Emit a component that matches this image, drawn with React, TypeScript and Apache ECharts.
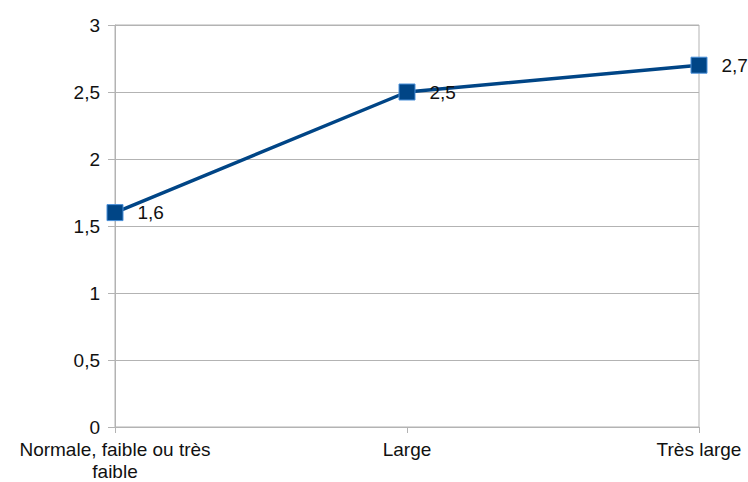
import React, { useEffect, useRef } from "react";
import * as echarts from "echarts";

const categories = ["Normale, faible ou très\nfaible", "Large", "Très large"];
const values = [1.6, 2.5, 2.7];
const yTicks = { min: 0, max: 3, interval: 0.5 };

const fmt = (v: number) => String(v).replace(".", ",");

export default function App() {
  const ref = useRef<HTMLDivElement>(null);
  useEffect(() => {
    if (!ref.current) return;
    const chart = echarts.init(ref.current, undefined, { renderer: "svg" });
    const gray = "#b3b3b3";
    const font = "Liberation Sans";
    chart.setOption({
      animation: false,
      backgroundColor: "#ffffff",
      grid: {
        left: 115,
        right: 49,
        top: 25,
        bottom: 55,
        show: true,
        borderColor: gray,
        borderWidth: 1,
      },
      xAxis: {
        type: "category",
        data: categories,
        boundaryGap: false,
        axisLine: { lineStyle: { color: gray, width: 1 } },
        axisTick: { show: true, length: 6, lineStyle: { color: gray }, alignWithLabel: true },
        axisLabel: {
          color: "#111",
          fontFamily: font,
          fontSize: 19,
          lineHeight: 22,
          margin: 11,
          interval: 0,
          align: "center",
        },
        splitLine: { show: false },
      },
      yAxis: {
        type: "value",
        min: yTicks.min,
        max: yTicks.max,
        interval: yTicks.interval,
        axisLine: { show: true, lineStyle: { color: gray, width: 1 } },
        axisTick: { show: true, length: 7, lineStyle: { color: gray } },
        axisLabel: {
          color: "#111",
          fontFamily: font,
          fontSize: 19,
          margin: 15,
          formatter: (v: number) => fmt(v),
        },
        splitLine: { show: true, lineStyle: { color: gray, width: 1 } },
      },
      series: [
        {
          type: "line",
          data: values,
          lineStyle: { color: "#004586", width: 3.5 },
          symbol: "rect",
          symbolSize: 16,
          itemStyle: { color: "#004586", borderColor: "#4a90d9", borderWidth: 1 },
          label: {
            show: true,
            position: "right",
            distance: 14,
            color: "#111",
            fontFamily: font,
            fontSize: 19,
            formatter: (p: any) => fmt(p.value),
          },
        },
      ],
    });
    return () => chart.dispose();
  }, []);
  return (
    <div
      ref={ref}
      style={{ position: "absolute", left: 0, top: 0, width: 748, height: 482 }}
    />
  );
}
